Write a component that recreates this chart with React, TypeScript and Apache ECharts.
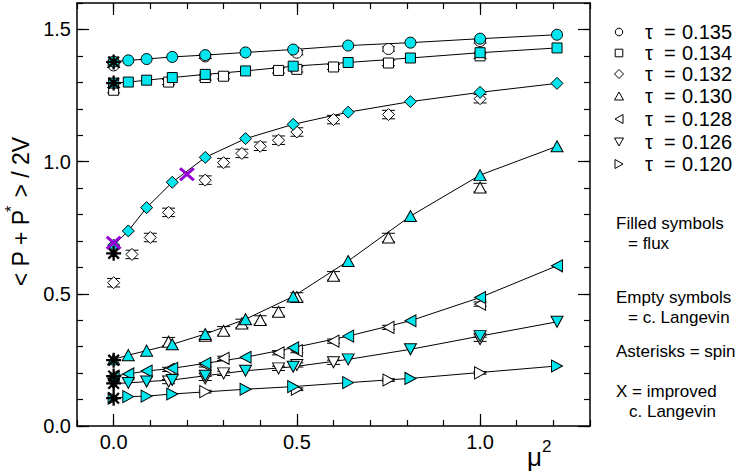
import React, { useEffect, useRef } from 'react';
import * as echarts from 'echarts';

// ---------- data ----------
const X_FLUX = [0, 0.04, 0.09, 0.16, 0.25, 0.36, 0.49, 0.64, 0.81, 1.0, 1.21];
const FLUX_135 = [1.378, 1.383, 1.388, 1.396, 1.403, 1.413, 1.424, 1.439, 1.45, 1.465, 1.48];
const FLUX_134 = [1.297, 1.301, 1.308, 1.318, 1.33, 1.343, 1.361, 1.375, 1.392, 1.412, 1.43];
const FLUX_132 = [0.684, 0.738, 0.826, 0.922, 1.016, 1.087, 1.141, 1.187, 1.227, 1.262, 1.296];
const FLUX_130 = [0.252, 0.268, 0.285, 0.309, 0.348, 0.404, 0.49, 0.624, 0.794, 0.949, 1.058];
const FLUX_128 = [0.189, 0.197, 0.208, 0.218, 0.237, 0.26, 0.296, 0.34, 0.398, 0.486, 0.606];
const FLUX_126 = [0.161, 0.163, 0.168, 0.174, 0.19, 0.209, 0.224, 0.252, 0.29, 0.34, 0.394];
const FLUX_120 = [0.105, 0.111, 0.113, 0.121, null, 0.139, 0.149, 0.164, 0.18, null, 0.227];

const X_EMP_135 = [0, 0.25, 0.5, 0.75, 1.0];
const EMP_135 = [1.364, 1.398, 1.412, 1.426, 1.456];
const X_EMP_134 = [0, 0.15, 0.25, 0.3, 0.45, 0.5, 0.6, 0.75, 1.0];
const EMP_134 = [1.27, 1.301, 1.318, 1.323, 1.345, 1.349, 1.358, 1.373, 1.4];
const X_EMP_132 = [0, 0.05, 0.1, 0.15, 0.25, 0.3, 0.35, 0.4, 0.45, 0.5, 0.6, 0.75, 1.0];
const EMP_132 = [0.542, 0.649, 0.713, 0.808, 0.93, 0.996, 1.031, 1.058, 1.081, 1.112, 1.159, 1.178, 1.238];
const X_EMP_130 = [0.15, 0.25, 0.3, 0.35, 0.4, 0.45, 0.5, 0.6, 0.75, 1.0];
const EMP_130 = [0.319, 0.341, 0.36, 0.388, 0.401, 0.432, 0.488, 0.568, 0.713, 0.902];
const X_EMP_128 = [0.15, 0.25, 0.3, 0.45, 0.5, 0.6, 0.75, 1.0];
const EMP_128 = [0.214, 0.231, 0.256, 0.277, 0.285, 0.321, 0.373, 0.461];
const X_EMP_126 = [0.15, 0.25, 0.3, 0.45, 0.5, 0.6, 1.0];
const EMP_126 = [0.168, 0.18, 0.199, 0.218, 0.231, 0.241, 0.328];
const X_EMP_120 = [0.25, 0.5, 0.75, 1.0];
const EMP_120 = [0.13, 0.139, 0.174, 0.201];

const ERR = [0.008, 0.01, 0.016, 0.016, 0.008, 0.008, 0.005];

const SPIN_X = [0, 0, 0, 0, 0, 0, 0];
const SPIN_Y = [1.377, 1.297, 0.653, 0.249, 0.189, 0.161, 0.105];

const IMPROVED_X = [0, 0.2];
const IMPROVED_Y = [0.693, 0.952];

const TAU_LABELS = ['0.135', '0.134', '0.132', '0.130', '0.128', '0.126', '0.120'];
const X_TICKS = [0, 0.5, 1.0];
const Y_TICKS = [0, 0.5, 1.0, 1.5];

// ---------- styling ----------
const CYAN = '#00e5ee';
const FONT = 'Liberation Sans, Arial, sans-serif';
const STAR =
  'path://M-1,-0.15L1,-0.15L1,0.15L-1,0.15Z M-0.15,-1L0.15,-1L0.15,1L-0.15,1Z M-0.601,-0.813L0.813,0.601L0.601,0.813L-0.813,-0.601Z M-0.813,0.601L0.601,-0.813L0.813,-0.601L-0.601,0.813Z';
const XMARK = 'path://M-1,-0.72L-0.72,-1L1,0.72L0.72,1Z M0.72,-1L1,-0.72L-0.72,1L-1,0.72Z';

const SETS = [
  { flux: FLUX_135, ex: X_EMP_135, ey: EMP_135, symbol: 'circle', rot: 0, size: 11 },
  { flux: FLUX_134, ex: X_EMP_134, ey: EMP_134, symbol: 'rect', rot: 0, size: 10 },
  { flux: FLUX_132, ex: X_EMP_132, ey: EMP_132, symbol: 'diamond', rot: 0, size: 12 },
  { flux: FLUX_130, ex: X_EMP_130, ey: EMP_130, symbol: 'triangle', rot: 0, size: [12, 11] },
  { flux: FLUX_128, ex: X_EMP_128, ey: EMP_128, symbol: 'triangle', rot: 90, size: [12, 11] },
  { flux: FLUX_126, ex: X_EMP_126, ey: EMP_126, symbol: 'triangle', rot: 180, size: [12, 11] },
  { flux: FLUX_120, ex: X_EMP_120, ey: EMP_120, symbol: 'triangle', rot: -90, size: [12, 11] },
];

const GRID = { left: 77, top: 3, width: 513, height: 423 };
const AXIS_LINE = { show: true, onZero: false, lineStyle: { color: '#000', width: 1.5 } };
const NO_LINE = { show: false, onZero: false };
const TICK_STYLE = { color: '#000', width: 1.2 };

const isMajor = (v: number) => Math.abs(v * 2 - Math.round(v * 2)) < 1e-6;
const fmt = (v: number) => (Math.abs(v) < 1e-9 ? '0.0' : v.toFixed(1));
const labelStyle = { color: '#000', fontSize: 20, fontFamily: FONT };

function minorXAxis(position: string, labels: boolean) {
  return {
    type: 'value', gridIndex: 0, position, min: -0.1, max: 1.3, interval: 0.1,
    axisLine: AXIS_LINE,
    axisTick: { show: true, inside: true, length: 6, lineStyle: TICK_STYLE },
    axisLabel: labels
      ? { show: true, ...labelStyle, margin: 6, formatter: (v: number) => (isMajor(v) ? fmt(v) : '') }
      : { show: false },
    splitLine: { show: false },
  };
}
function minorYAxis(position: string, labels: boolean) {
  return {
    type: 'value', gridIndex: 0, position, min: 0, max: 1.6, interval: 0.1,
    axisLine: AXIS_LINE,
    axisTick: { show: true, inside: true, length: 6, lineStyle: TICK_STYLE },
    axisLabel: labels
      ? { show: true, ...labelStyle, margin: 6, formatter: (v: number) => (isMajor(v) ? fmt(v) : '') }
      : { show: false },
    splitLine: { show: false },
  };
}
function majorXAxis(position: string) {
  return {
    type: 'value', gridIndex: 1, position, min: -0.1, max: 1.3,
    axisLine: NO_LINE,
    axisTick: { show: true, inside: true, length: 12, lineStyle: TICK_STYLE, customValues: X_TICKS },
    axisLabel: { show: false },
    splitLine: { show: false },
  };
}
function majorYAxis(position: string) {
  return {
    type: 'value', gridIndex: 1, position, min: 0, max: 1.6,
    axisLine: NO_LINE,
    axisTick: { show: true, inside: true, length: 12, lineStyle: TICK_STYLE, customValues: Y_TICKS },
    axisLabel: { show: false },
    splitLine: { show: false },
  };
}

function buildSeries() {
  const series: any[] = [];
  SETS.forEach((s, k) => {
    const fluxData = X_FLUX.map((x, i) => [x, s.flux[i]]).filter((p) => p[1] != null);
    const empData = s.ex.map((x, i) => [x, s.ey[i]]);
    const errData = s.ex.map((x, i) => [x, s.ey[i], ERR[k]]);
    series.push({
      type: 'custom', name: 'err' + k, xAxisIndex: 0, yAxisIndex: 0, z: 2,
      data: errData, encode: { x: 0, y: 1 },
      renderItem: (params: any, api: any) => {
        const x = api.value(0), y = api.value(1), e = api.value(2);
        const t = api.coord([x, y + e]);
        const b = api.coord([x, y - e]);
        const hw = 6.5;
        const st = { stroke: '#000', lineWidth: 1 };
        return {
          type: 'group',
          children: [
            { type: 'line', shape: { x1: t[0], y1: t[1], x2: b[0], y2: b[1] }, style: st },
            { type: 'line', shape: { x1: t[0] - hw, y1: t[1], x2: t[0] + hw, y2: t[1] }, style: st },
            { type: 'line', shape: { x1: b[0] - hw, y1: b[1], x2: b[0] + hw, y2: b[1] }, style: st },
          ],
        };
      },
    });
    series.push({
      type: 'line', name: 'line' + k, xAxisIndex: 0, yAxisIndex: 0, z: 2,
      data: fluxData, showSymbol: false, symbol: 'none',
      lineStyle: { color: '#000', width: 1 },
    });
    series.push({
      type: 'scatter', name: 'emp' + k, xAxisIndex: 0, yAxisIndex: 0, z: 3,
      data: empData, symbol: s.symbol, symbolRotate: s.rot, symbolSize: s.size,
      itemStyle: { color: '#fff', borderColor: '#000', borderWidth: 1, opacity: 1 },
    });
    series.push({
      type: 'scatter', name: 'flux' + k, xAxisIndex: 0, yAxisIndex: 0, z: 4,
      data: fluxData, symbol: s.symbol, symbolRotate: s.rot, symbolSize: s.size,
      itemStyle: { color: CYAN, borderColor: '#000', borderWidth: 1, opacity: 1 },
    });
  });
  series.push({
    type: 'scatter', name: 'spin', xAxisIndex: 0, yAxisIndex: 0, z: 5,
    data: SPIN_X.map((x, i) => [x, SPIN_Y[i]]), symbol: STAR, symbolSize: 15,
    itemStyle: { color: '#000', opacity: 1 },
  });
  series.push({
    type: 'scatter', name: 'improved', xAxisIndex: 0, yAxisIndex: 0, z: 6,
    data: IMPROVED_X.map((x, i) => [x, IMPROVED_Y[i]]), symbol: XMARK, symbolSize: [16, 14],
    itemStyle: { color: '#9400d3', opacity: 1 },
  });
  return series;
}

function legendGraphics() {
  const g: any[] = [];
  const rowsY = [32, 53, 74, 96, 119, 142, 164];
  const sx = 619;
  const st = { fill: '#fff', stroke: '#000', lineWidth: 1 };
  rowsY.forEach((y, i) => {
    let shape: any;
    if (i === 0) shape = { type: 'circle', shape: { cx: sx, cy: y, r: 3.8 }, style: st };
    else if (i === 1) shape = { type: 'rect', shape: { x: sx - 3.8, y: y - 3.8, width: 7.6, height: 7.6 }, style: st };
    else if (i === 2) shape = { type: 'polygon', shape: { points: [[sx, y - 4.5], [sx + 4.5, y], [sx, y + 4.5], [sx - 4.5, y]] }, style: st };
    else if (i === 3) shape = { type: 'polygon', shape: { points: [[sx, y - 4], [sx + 4.5, y + 4], [sx - 4.5, y + 4]] }, style: st };
    else if (i === 4) shape = { type: 'polygon', shape: { points: [[sx - 4, y], [sx + 4, y - 4.5], [sx + 4, y + 4.5]] }, style: st };
    else if (i === 5) shape = { type: 'polygon', shape: { points: [[sx - 4.5, y - 4], [sx + 4.5, y - 4], [sx, y + 4]] }, style: st };
    else shape = { type: 'polygon', shape: { points: [[sx + 4, y], [sx - 4, y - 4.5], [sx - 4, y + 4.5]] }, style: st };
    g.push(shape);
    const ts = { fill: '#000', font: `20px ${FONT}`, textVerticalAlign: 'middle' };
    g.push({ type: 'text', x: 645, y, style: { ...ts, text: 'τ', textAlign: 'left' } });
    g.push({ type: 'text', x: 664, y, style: { ...ts, text: '=', textAlign: 'left' } });
    g.push({ type: 'text', x: 682, y, style: { ...ts, text: TAU_LABELS[i], textAlign: 'left' } });
  });
  const notes: [string, number, number][] = [
    ['Filled symbols', 616, 223],
    ['= flux', 628, 243],
    ['Empty symbols', 616, 297],
    ['= c. Langevin', 628, 317],
    ['Asterisks = spin', 616, 351],
    ['X = improved', 616, 391],
    ['c. Langevin', 629, 411],
  ];
  notes.forEach(([t, x, y]) => {
    g.push({ type: 'text', x, y, style: { text: t, fill: '#000', font: `17px ${FONT}`, textAlign: 'left', textVerticalAlign: 'middle' } });
  });
  // axis titles
  g.push({
    type: 'text', x: 20.5, y: 211.5, rotation: Math.PI / 2,
    style: { text: '< P + P  > / 2V', fill: '#000', font: `23px ${FONT}`, textAlign: 'center', textVerticalAlign: 'middle' },
  });
  g.push({
    type: 'text', x: 11, y: 209, rotation: Math.PI / 2,
    style: { text: '*', fill: '#000', font: `16px ${FONT}`, textAlign: 'center', textVerticalAlign: 'middle' },
  });
  g.push({
    type: 'text', x: 527, y: 456.5,
    style: { text: 'μ', fill: '#000', font: `26px ${FONT}`, textAlign: 'left', textVerticalAlign: 'middle' },
  });
  g.push({
    type: 'text', x: 542, y: 446,
    style: { text: '2', fill: '#000', font: `17px ${FONT}`, textAlign: 'left', textVerticalAlign: 'middle' },
  });
  return g;
}

export default function App() {
  const ref = useRef<HTMLDivElement>(null);
  useEffect(() => {
    document.body.style.margin = '0';
    const chart = echarts.init(ref.current as HTMLDivElement, null, { renderer: 'svg' });
    const option: any = {
      animation: false,
      backgroundColor: '#fff',
      grid: [
        { ...GRID, containLabel: false },
        { ...GRID, containLabel: false },
      ],
      xAxis: [minorXAxis('bottom', true), minorXAxis('top', false), majorXAxis('bottom'), majorXAxis('top')],
      yAxis: [minorYAxis('left', true), minorYAxis('right', false), majorYAxis('left'), majorYAxis('right')],
      series: buildSeries(),
      graphic: legendGraphics(),
    };
    chart.setOption(option);
    return () => chart.dispose();
  }, []);
  return <div ref={ref} style={{ width: 747, height: 476 }} />;
}
